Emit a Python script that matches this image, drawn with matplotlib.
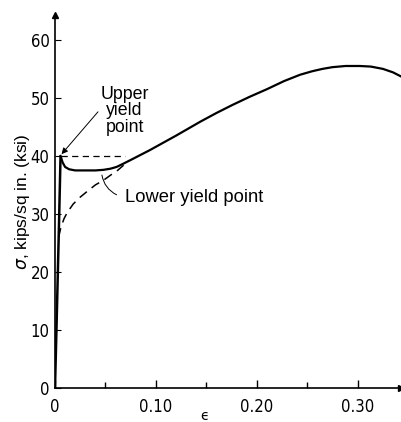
import matplotlib.pyplot as plt
from matplotlib.ticker import MultipleLocator

# stress-strain readings (strain, ksi)
elastic_eps = [0.0, 0.0020, 0.0040, 0.0055]
elastic_sig = [0.0, 14.0, 28.5, 40.0]

upper_eps = [0.0055, 0.0075, 0.010, 0.014, 0.020, 0.030, 0.040, 0.048, 0.055, 0.061,
             0.067, 0.075, 0.094, 0.120, 0.144, 0.160, 0.176, 0.193, 0.210, 0.227,
             0.243, 0.255, 0.265, 0.275, 0.288, 0.302, 0.313, 0.325, 0.335, 0.344]
upper_sig = [40.0, 38.9, 38.1, 37.7, 37.5, 37.5, 37.5, 37.6, 37.8, 38.1,
             38.6, 39.3, 41.0, 43.5, 45.9, 47.4, 48.8, 50.2, 51.5, 52.9,
             54.0, 54.6, 55.0, 55.3, 55.5, 55.5, 55.4, 55.0, 54.4, 53.6]

lower_eps = [0.0036, 0.006, 0.009, 0.012, 0.018, 0.025, 0.032, 0.040, 0.048, 0.056,
             0.062, 0.068]
lower_sig = [26.0, 27.8, 29.2, 30.2, 31.7, 32.9, 33.9, 35.0, 35.8, 36.8,
             37.5, 38.4]

yield_level = 40.0
yield_eps_end = 0.069

xticks = [0, 0.10, 0.20, 0.30]
xtick_labels = ['0', '0.10', '0.20', '0.30']
yticks = [0, 10, 20, 30, 40, 50, 60]

fig = plt.figure(figsize=(4.02, 4.22), dpi=100)
ax = fig.add_axes([0.1368, 0.0806, 0.861, 0.884])

ax.plot(elastic_eps, elastic_sig, color='black', lw=1.8, solid_capstyle='butt')
ax.plot(upper_eps, upper_sig, color='black', lw=1.6)
ax.plot(lower_eps, lower_sig, color='black', lw=1.1, dashes=(6, 4))
ax.plot([elastic_eps[-1], yield_eps_end], [yield_level, yield_level],
        color='black', lw=0.9, dashes=(5, 3.5))

ax.set_xlim(0, 0.343)
ax.set_ylim(0, 64.3)

for s in ['top', 'right']:
    ax.spines[s].set_visible(False)
for s in ['left', 'bottom']:
    ax.spines[s].set_linewidth(1.2)

# axis arrow heads
ax.plot(1, 0, '>k', ms=5, transform=ax.get_yaxis_transform(), clip_on=False)
ax.plot(0, 1, '^k', ms=5, transform=ax.get_xaxis_transform(), clip_on=False)

narrow = ['Liberation Sans Narrow', 'DejaVu Sans']
ax.set_xticks(xticks)
ax.set_xticklabels(xtick_labels, fontfamily=narrow, fontstretch='condensed',
                   fontsize=12)
ax.xaxis.set_minor_locator(MultipleLocator(0.05))
ax.set_yticks(yticks)
ax.set_yticklabels([str(v) for v in yticks], fontfamily=narrow,
                   fontstretch='condensed', fontsize=12)
ax.tick_params(axis='x', which='major', direction='in', length=6, width=1, pad=7)
ax.tick_params(axis='x', which='minor', direction='in', length=4, width=1)
ax.tick_params(axis='y', direction='in', length=4, width=0.8, pad=4)

ax.set_ylabel(r'$\sigma$, kips/sq in. (ksi)', fontfamily='Liberation Sans',
              fontsize=12.5, labelpad=-1)
ax.text(0.148, -4.8, '\u03f5', ha='center', va='center', fontsize=10,
        clip_on=False)

ax.text(0.069, 47.8, 'Upper\nyield\npoint', ha='center', va='center',
        multialignment='center', fontfamily='Liberation Sans', fontsize=12.8,
        linespacing=0.95)
ax.annotate('', xy=(0.0065, 40.3), xytext=(0.0426, 47.6),
            arrowprops=dict(arrowstyle='-|>', color='black', lw=0.7,
                            mutation_scale=9, shrinkA=0, shrinkB=0))
ax.text(0.069, 32.9, 'Lower yield point', ha='left', va='center',
        fontfamily='Liberation Sans', fontsize=13.2)
ax.annotate('', xy=(0.0465, 36.7), xytext=(0.061, 33.3),
            arrowprops=dict(arrowstyle='-', color='black', lw=0.7,
                            connectionstyle='arc3,rad=-0.25',
                            shrinkA=0, shrinkB=0))

fig.savefig('out.png', dpi=100)
